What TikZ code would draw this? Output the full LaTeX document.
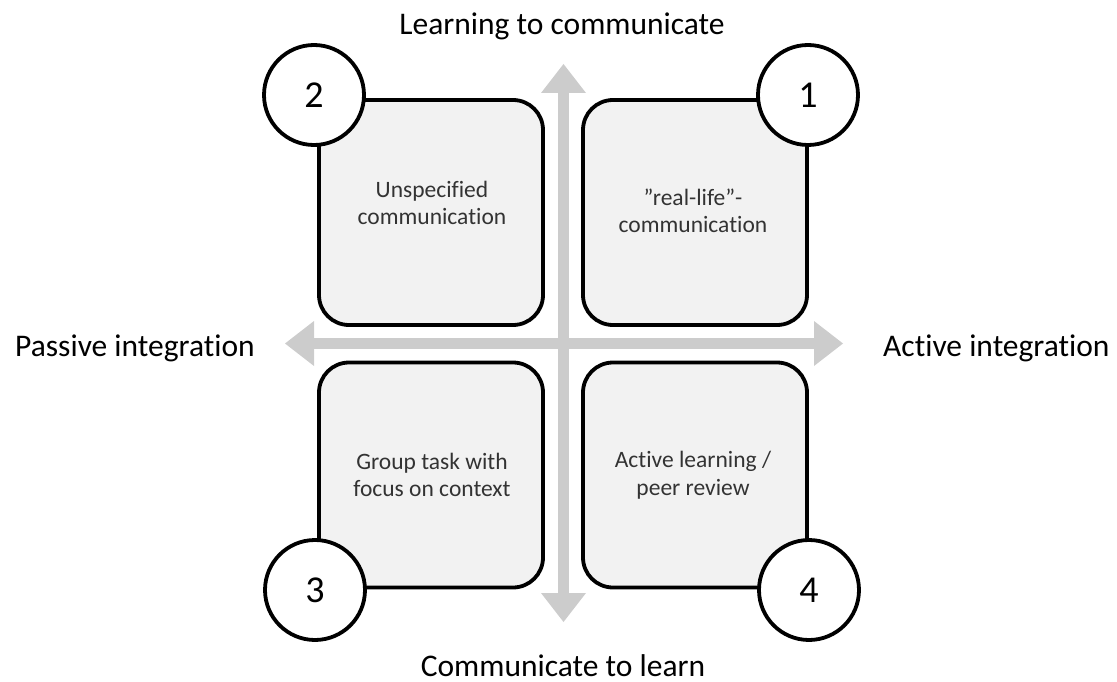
\documentclass[tikz,border=0pt]{standalone}
\usepackage{fontspec}
\setmainfont{Carlito}[Ligatures={NoCommon,NoContextual}]
\usetikzlibrary{arrows.meta}
\definecolor{boxfill}{HTML}{F2F2F2}
\definecolor{axisgray}{HTML}{CCCCCC}
\definecolor{boxtext}{HTML}{333333}
\tikzset{
  quadbox/.style={draw=black, line width=3.8pt, fill=boxfill, rounded corners=30pt,
    minimum width=224pt, minimum height=225pt, inner sep=0pt},
  numcircle/.style={draw=black, line width=3.8pt, fill=white, circle,
    minimum size=100pt, inner sep=0pt, font=\fontsize{38}{44}\selectfont},
  boxlabel/.style={align=center, text=boxtext, inner sep=0pt,
    font=\fontsize{23.5}{27.5}\selectfont},
  axislabel/.style={inner sep=0pt, text=black, font=\fontsize{31.5}{38}\selectfont},
  axisarrow/.style={draw=axisgray, line width=11.5pt,
    {Triangle[width=45pt,length=29pt,line width=0pt]}-{Triangle[width=45pt,length=29pt,line width=0pt]}}
}
\begin{document}
\begin{tikzpicture}[x=1pt,y=-1pt]
\useasboundingbox (0,0) rectangle (1117,682);
% axes
\coordinate (vtop) at (563.5,64);
\coordinate (vbot) at (563.5,622);
\coordinate (hleft) at (285,343.5);
\coordinate (hright) at (843,343.5);
\draw[axisarrow] (vbot) -- (vtop);
\draw[axisarrow] (hleft) -- (hright);
% boxes
\node[quadbox] (q2) at (431,212.5) {};
\node[quadbox] (q1) at (695,212.5) {};
\node[quadbox] (q3) at (431,475) {};
\node[quadbox] (q4) at (695,475) {};
% box texts
\node[boxlabel] (t2) at (432,203) {Unspecified\\communication};
\node[boxlabel] (t1) at (693,211) {”real-life”-\\communication};
\node[boxlabel] (t3) at (432,475) {Group task with\\focus on context};
\node[boxlabel] (t4) at (693,475) {Active learning /\\peer review};
% circles
\node[numcircle] (c2) at (314,95) {2};
\node[numcircle] (c1) at (808,95) {1};
\node[numcircle] (c3) at (315,590) {3};
\node[numcircle] (c4) at (809,590) {4};
% axis labels
\node[axislabel, anchor=base] (ltop) at (562,35) {Learning to communicate};
\node[axislabel, anchor=base] (lbot) at (563,676) {Communicate to learn};
\node[axislabel, anchor=base west] (lleft) at (15,356) {Passive integration};
\node[axislabel, anchor=base west] (lright) at (883,356) {Active integration};
\end{tikzpicture}
\end{document}
